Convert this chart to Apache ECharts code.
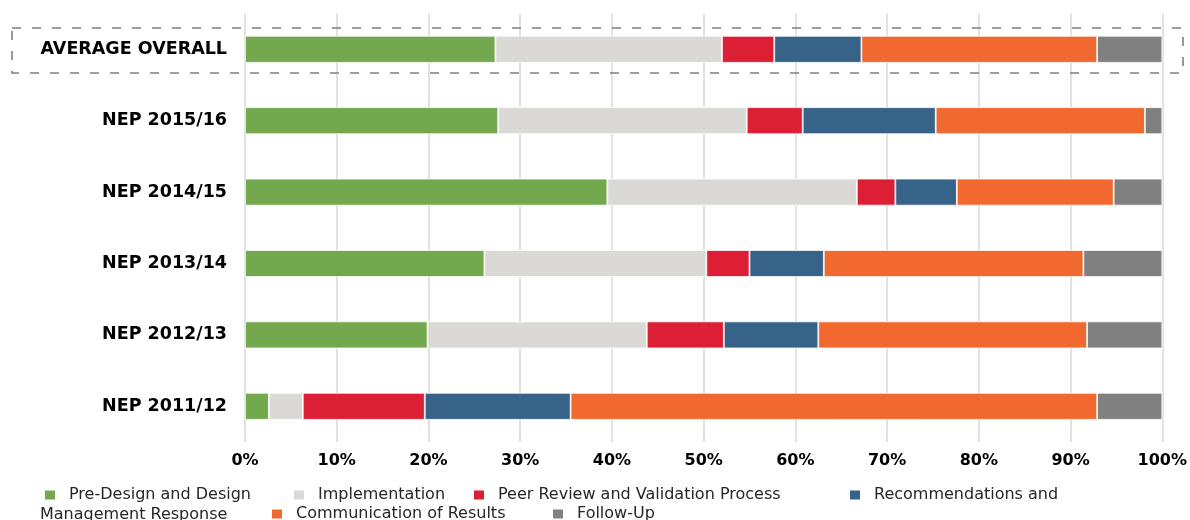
<!DOCTYPE html>
<html>
<head>
<meta charset="utf-8">
<script src="https://cdn.jsdelivr.net/npm/echarts@6/dist/echarts.min.js"></script>
<style>
html,body{margin:0;padding:0;background:#fff;}
#chart{width:1190px;height:520px;}
</style>
</head>
<body>
<div id="chart"></div>
<script>
// Categories (top to bottom)
const categories = ['AVERAGE OVERALL', 'NEP 2015/16', 'NEP 2014/15', 'NEP 2013/14', 'NEP 2012/13', 'NEP 2011/12'];
// Series values (percent of total, per category)
const preDesign       = [27.3, 27.6, 39.5, 26.1, 19.9, 2.6];
const implementation  = [24.7, 27.1, 27.2, 24.2, 23.9, 3.7];
const peerReview      = [5.7, 6.1, 4.2, 4.7, 8.4, 13.3];
const recommendations = [9.5, 14.5, 6.7, 8.1, 10.3, 15.9];
const communication   = [25.7, 22.8, 17.1, 28.3, 29.3, 57.4];
const followUp        = [7.1, 1.9, 5.3, 8.6, 8.2, 7.1];
// Axis tick labels
const xTicks = ['0%', '10%', '20%', '30%', '40%', '50%', '60%', '70%', '80%', '90%', '100%'];

const seriesNames = [
  'Pre-Design and Design',
  'Implementation',
  'Peer Review and Validation Process',
  'Recommendations and Management Response',
  'Communication of Results',
  'Follow-Up'
];
const seriesData = [preDesign, implementation, peerReview, recommendations, communication, followUp];
const colors = ['#73A84E', '#DAD9D5', '#DC1F35', '#376389', '#F1692E', '#808080'];

const chart = echarts.init(document.getElementById('chart'), null, {renderer: 'canvas'});

const legendBase = {
  orient: 'horizontal',
  itemWidth: 10,
  itemHeight: 9,
  itemGap: 10,
  padding: 0,
  icon: 'rect',
  selectedMode: false,
  itemStyle: {borderWidth: 0},
  textStyle: {fontFamily: 'DejaVu Sans', fontSize: 16, color: '#262626', padding: [0, 0, 0, 9]}
};
const legendPos = [
  {left: 45, top: 487},
  {left: 294, top: 487},
  {left: 474, top: 487},
  {left: 850, top: 487},
  {left: 272, top: 506},
  {left: 553, top: 506}
];
const legends = seriesNames.map((n, i) => Object.assign({}, legendBase, legendPos[i], {
  data: [n],
  formatter: function (name) {
    return name === 'Recommendations and Management Response' ? 'Recommendations and' : name;
  }
}));

const option = {
  animation: false,
  backgroundColor: '#ffffff',
  color: colors,
  grid: {left: 245, right: 27, top: 13.6, bottom: 78, containLabel: false},
  xAxis: {
    type: 'value',
    min: 0,
    max: 100,
    interval: 10,
    axisLine: {show: false},
    axisTick: {show: false},
    splitLine: {show: true, lineStyle: {color: '#D9D9D9', width: 1.5}},
    axisLabel: {
      margin: 11,
      fontFamily: 'DejaVu Sans',
      fontWeight: 'bold',
      fontSize: 16,
      color: '#000',
      formatter: function (v) { return xTicks[Math.round(v / 10)]; }
    }
  },
  yAxis: {
    type: 'category',
    data: categories,
    inverse: true,
    axisLine: {show: false},
    axisTick: {show: false},
    splitLine: {show: false},
    axisLabel: {
      margin: 18,
      fontFamily: 'DejaVu Sans',
      fontWeight: 'bold',
      fontSize: 17.5,
      color: '#000'
    }
  },
  legend: legends,
  series: seriesNames.map((n, i) => ({
    name: n,
    type: 'bar',
    stack: 'total',
    barWidth: 27,
    data: seriesData[i],
    itemStyle: {color: colors[i], borderColor: '#ffffff', borderWidth: 0.8},
    emphasis: {disabled: true}
  })),
  graphic: [
    {
      type: 'rect',
      shape: {x: 12, y: 28, width: 1171, height: 45},
      style: {fill: 'none', stroke: '#7F7F7F', lineWidth: 1.6, lineDash: [9, 11]},
      z: 10,
      silent: true
    },
    {
      type: 'text',
      left: 40,
      top: 507,
      style: {text: 'Management Response', fontFamily: 'DejaVu Sans', fontSize: 16, fill: '#262626'},
      silent: true
    }
  ]
};
chart.setOption(option);
</script>
</body>
</html>
